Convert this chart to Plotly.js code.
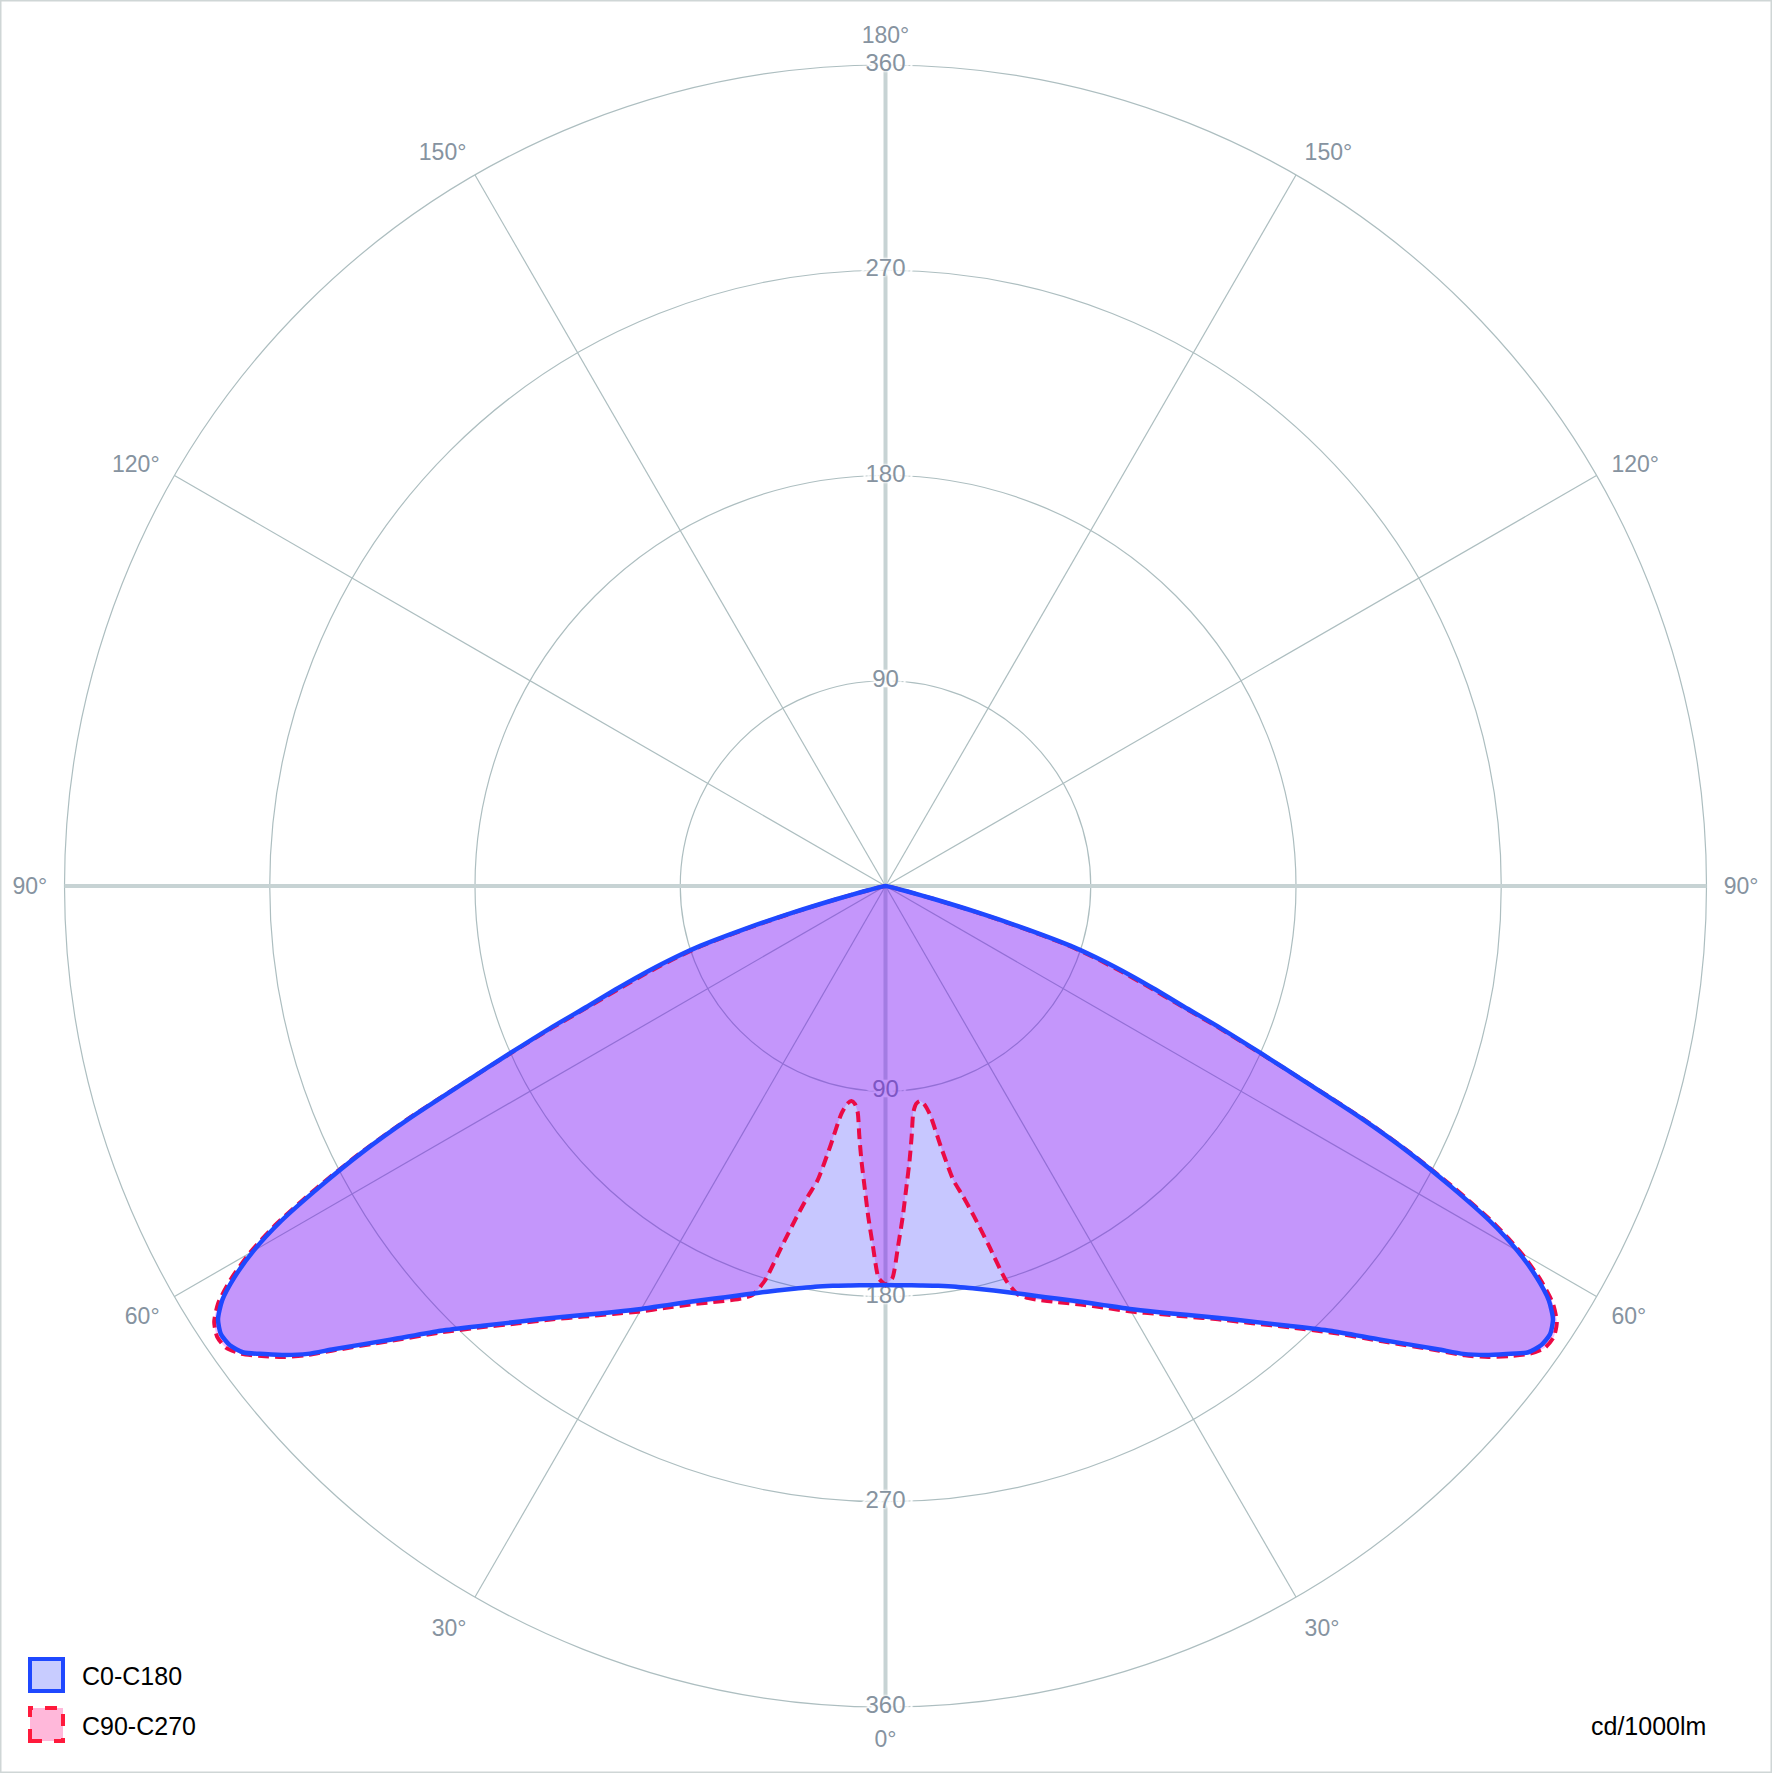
<!DOCTYPE html>
<html>
<head>
<meta charset="utf-8">
<script src="https://cdn.plot.ly/plotly-3.0.1.min.js"></script>
<style>
  html, body { margin: 0; padding: 0; background: #ffffff; }
  #chart { width: 1772px; height: 1773px; }
</style>
</head>
<body>
<div id="chart"></div>
<script>
// ---------------- data (cd/1000lm, gamma in degrees, half plane; symmetric) ----------------
const gammaC0C180 = [0, 2.5, 5, 7.5, 10, 12.5, 15, 17.5, 20, 22.5, 25, 27.5, 30, 32.5, 35, 37.5, 40, 42.5, 45, 47.5,
  50, 51, 52, 53, 54, 55, 56, 57, 58, 59, 60, 61, 62, 63, 64, 65, 66, 67, 68, 69, 70, 71, 72, 73, 74, 75, 76, 78, 80, 85, 90];
const intensityC0C180 = [175, 175.2, 175.8, 176.8, 178.4, 180.8, 183.6, 187.1, 191.2, 195.8, 201, 207.2, 214.2, 221.5, 229.5, 238.6, 249.3, 261.5, 275.8, 294.5,
  316, 326, 334, 341, 348, 351, 351.5, 349, 343, 333, 320, 303, 281, 258, 231.5, 203, 180, 160, 141, 127, 114, 101, 87, 65, 42, 22, 10, 3, 1, 0, 0];

const gammaC90C270 = [0, 1, 2, 3, 4, 5, 6, 7, 8, 9, 10, 11, 12, 13, 14, 15, 16, 17, 18, 19, 20,
  22.5, 25, 27.5, 30, 32.5, 35, 37.5, 40, 42.5, 45, 47.5,
  50, 51, 52, 53, 54, 55, 56, 57, 58, 59, 60, 61, 62, 63, 64, 65, 66, 67, 68, 69, 70, 71, 72, 73, 74, 75, 76, 78, 80, 85, 90];
const intensityC90C270 = [175, 172, 158, 145, 132, 121, 110, 100, 96.5, 95.5, 97, 102, 117, 132.5, 140, 150, 163.5, 181, 188.5, 191, 193,
  197.5, 202.5, 208.5, 215.5, 222.5, 230.5, 239.5, 250.3, 262.5, 277, 295.5,
  317, 327, 335.5, 342.5, 349, 353, 353.5, 351, 345, 335, 322, 305, 283, 259.5, 233, 203.5, 179, 158, 138.5, 124, 111, 98, 84, 62, 40, 21, 9, 3, 1, 0, 0];

const seriesNames = ['C0-C180', 'C90-C270'];
const radialTickVals = [90, 180, 270, 360];
const radialTickText = ['90', '180', '270', '360'];
const angularTickVals = [0, 30, 60, 90, 120, 150, 180, 210, 240, 270, 300, 330];
const angularTickText = ['90°', '120°', '150°', '180°', '150°', '120°', '90°', '60°', '30°', '0°', '30°', '60°'];
const unitLabel = 'cd/1000lm';

// ---------------- helpers ----------------
// left half: theta = 270 - gamma ; right half: theta = 270 + gamma (0° points down)
function planeCurve(g, I) {
  const theta = [], r = [];
  for (let i = g.length - 1; i >= 0; i--) { theta.push(270 - g[i]); r.push(I[i]); }
  for (let i = 0; i < g.length; i++) { theta.push(270 + g[i]); r.push(I[i]); }
  return { theta, r };
}

const FONT = '"Liberation Sans", Arial, sans-serif';
const labelGray = '#8693a0';
const gridColor = '#adbec0';
const thickColor = '#c7d3d4';
const blueLine = '#1f48ff';
const redLine = '#eb0a45';
const blueFill = 'rgba(0,0,255,0.22)';
const redFill = 'rgba(239,3,235,0.25)';

const cBlue = planeCurve(gammaC0C180, intensityC0C180);
const cRed = planeCurve(gammaC90C270, intensityC90C270);

const halo = '8px 0 1px #fff, -8px 0 1px #fff, 4px 0 2px #fff, -4px 0 2px #fff, 0 0 3px #fff, 0 0 3px #fff';

function labelTrace(subplot, angle) {
  return {
    type: 'scatterpolar', subplot: subplot, mode: 'text',
    r: radialTickVals, theta: radialTickVals.map(() => angle), text: radialTickText,
    textposition: 'middle center', cliponaxis: false, hoverinfo: 'skip', showlegend: false,
    textfont: { family: FONT, size: 24, color: labelGray, shadow: halo }
  };
}

function areaTrace(subplot, curve, name, fillcolor) {
  return {
    type: 'scatterpolar', subplot: subplot, mode: 'lines', name: name,
    r: curve.r, theta: curve.theta, fill: 'toself', fillcolor: fillcolor,
    line: { width: 0, color: 'rgba(0,0,0,0)', shape: 'spline', smoothing: 0.6 },
    cliponaxis: false, hoverinfo: 'skip', showlegend: false
  };
}

function outlineTrace(subplot, curve, name, line) {
  return {
    type: 'scatterpolar', subplot: subplot, mode: 'lines', name: name,
    r: curve.r, theta: curve.theta, fill: 'none',
    line: Object.assign({ shape: 'spline', smoothing: 0.6 }, line),
    cliponaxis: false, hoverinfo: 'skip', showlegend: false
  };
}

const traces = [
  labelTrace('polar', 90),
  labelTrace('polar2', 270),
  areaTrace('polar3', cRed, seriesNames[1], redFill),
  areaTrace('polar4', cBlue, seriesNames[0], blueFill),
  outlineTrace('polar4', cRed, seriesNames[1], { color: redLine, width: 4, dash: '11px,6px' }),
  outlineTrace('polar4', cBlue, seriesNames[0], { color: blueLine, width: 4.5 })
];

const dom = { x: [64.5 / 1772, 1706.5 / 1772], y: [1 - 1707 / 1773, 1 - 65 / 1773] };

function overlayPolar(angle) {
  return {
    domain: dom, bgcolor: 'rgba(0,0,0,0)',
    angularaxis: { visible: false, rotation: 0, direction: 'counterclockwise' },
    radialaxis: {
      range: [0, 360], autorange: false, angle: angle, showgrid: false, showline: true,
      linecolor: thickColor, linewidth: 4, showticklabels: false, ticks: '', layer: 'below traces'
    }
  };
}

const layout = {
  width: 1772, height: 1773,
  margin: { l: 0, r: 0, t: 0, b: 0, pad: 0 },
  paper_bgcolor: '#ffffff',
  showlegend: false,
  font: { family: FONT, color: labelGray },
  polar: {
    domain: dom, bgcolor: '#ffffff',
    angularaxis: {
      rotation: 0, direction: 'counterclockwise', thetaunit: 'degrees',
      tickmode: 'array', tickvals: angularTickVals, ticktext: angularTickText,
      showgrid: true, gridcolor: gridColor, gridwidth: 1.2,
      showline: true, linecolor: gridColor, linewidth: 1.2,
      ticks: 'outside', ticklen: 12, tickcolor: 'rgba(0,0,0,0)',
      tickfont: { family: FONT, size: 23, color: labelGray },
      layer: 'below traces'
    },
    radialaxis: {
      range: [0, 360], autorange: false, angle: 90,
      tickmode: 'array', tickvals: radialTickVals,
      showgrid: true, gridcolor: gridColor, gridwidth: 1.2,
      showline: true, linecolor: thickColor, linewidth: 4,
      showticklabels: false, ticks: '', layer: 'below traces'
    }
  },
  polar2: overlayPolar(270),
  polar3: overlayPolar(0),
  polar4: overlayPolar(180),
  shapes: [
    { type: 'rect', xref: 'paper', yref: 'paper', x0: 0, x1: 1, y0: 0, y1: 1,
      line: { color: '#cfd6d6', width: 3 }, fillcolor: 'rgba(0,0,0,0)', layer: 'below' },
    { type: 'rect', xref: 'paper', yref: 'paper', x0: 30 / 1772, x1: 63 / 1772, y0: 1 - 1691 / 1773, y1: 1 - 1659 / 1773,
      line: { color: blueLine, width: 4 }, fillcolor: 'rgb(200,204,255)' },
    { type: 'rect', xref: 'paper', yref: 'paper', x0: 30 / 1772, x1: 63 / 1772, y0: 1 - 1741 / 1773, y1: 1 - 1708 / 1773,
      line: { color: '#ff1a3c', width: 4, dash: 'dash' }, fillcolor: 'rgb(255,184,218)' }
  ],
  annotations: [
    { xref: 'paper', yref: 'paper', x: 80 / 1772, y: 1 - 1676 / 1773, xanchor: 'left', yanchor: 'middle',
      text: seriesNames[0], showarrow: false, font: { family: FONT, size: 25, color: '#000000' } },
    { xref: 'paper', yref: 'paper', x: 80 / 1772, y: 1 - 1726 / 1773, xanchor: 'left', yanchor: 'middle',
      text: seriesNames[1], showarrow: false, font: { family: FONT, size: 25, color: '#000000' } },
    { xref: 'paper', yref: 'paper', x: 1708 / 1772, y: 1 - 1726 / 1773, xanchor: 'right', yanchor: 'middle',
      text: unitLabel, showarrow: false, font: { family: FONT, size: 25, color: '#000000' } }
  ]
};

Plotly.newPlot('chart', traces, layout, { staticPlot: true, displayModeBar: false });
</script>
</body>
</html>
